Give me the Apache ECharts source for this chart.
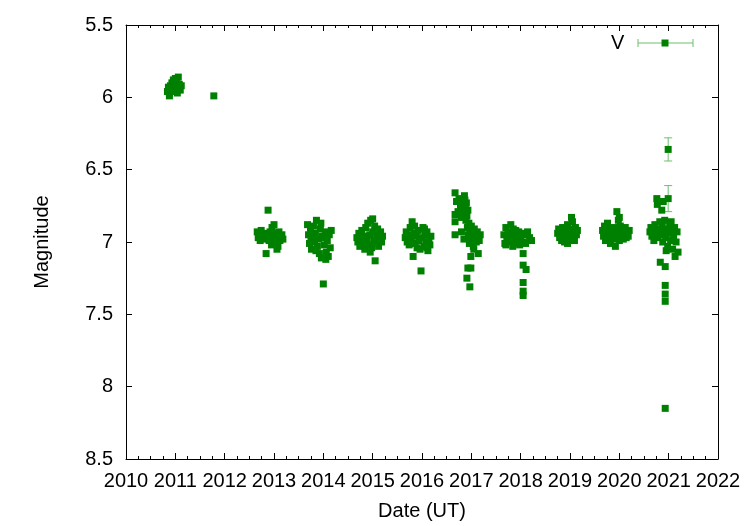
<!DOCTYPE html>
<html><head><meta charset="utf-8">
<script src="https://cdn.jsdelivr.net/npm/echarts@6/dist/echarts.min.js"></script>
<style>html,body{margin:0;padding:0;background:#fff}#c{width:751px;height:526px}</style>
</head><body><div id="c"></div>
<script>
// Data: [year, magnitude]
const season2011 = [[2010.84,5.96],[2010.86,5.93],[2010.88,5.97],[2010.90,5.92],[2010.92,5.95],[2010.93,5.90],[2010.95,5.93],[2010.96,5.88],[2010.97,5.96],[2010.99,5.91],[2011.00,5.87],[2011.02,5.94],[2011.03,5.89],[2011.05,5.93],[2011.06,5.86],[2011.08,5.91],[2011.10,5.95],[2011.12,5.92],[2010.88,5.99],[2011.04,5.97],[2011.78,5.99]];
const season2013 = [[2012.66,6.93],[2012.68,6.97],[2012.70,6.95],[2012.72,6.99],[2012.74,6.92],[2012.76,6.96],[2012.78,6.98],[2012.80,6.94],[2012.82,6.97],[2012.84,7.08],[2012.86,6.95],[2012.88,6.78],[2012.90,6.99],[2012.92,6.93],[2012.94,6.97],[2012.96,6.90],[2012.98,6.95],[2013.00,7.00],[2013.02,6.94],[2013.04,6.98],[2013.06,7.05],[2013.08,6.96],[2013.10,6.93],[2013.12,6.99],[2013.14,6.97],[2013.16,6.95],[2013.18,6.98],[2013.00,6.88],[2012.95,7.02],[2013.08,7.03]];
const season2014 = [[2013.68,6.88],[2013.70,6.95],[2013.72,7.01],[2013.74,6.92],[2013.76,7.05],[2013.78,6.97],[2013.80,6.89],[2013.82,7.00],[2013.84,6.94],[2013.86,6.85],[2013.88,7.03],[2013.90,6.98],[2013.92,7.08],[2013.94,6.91],[2013.96,7.11],[2013.98,6.96],[2014.00,7.29],[2014.02,7.02],[2014.04,6.93],[2014.06,7.07],[2014.08,6.99],[2014.10,7.10],[2014.12,6.95],[2014.14,7.04],[2014.16,6.92],[2013.85,7.06],[2013.95,6.87],[2014.05,7.12],[2013.75,6.99],[2014.00,6.97]];
const season2015 = [[2014.68,6.97],[2014.70,7.00],[2014.72,6.94],[2014.74,7.03],[2014.76,6.98],[2014.78,6.92],[2014.80,7.01],[2014.82,6.96],[2014.84,7.05],[2014.86,6.90],[2014.88,6.99],[2014.90,6.87],[2014.92,7.02],[2014.94,6.95],[2014.96,6.85],[2014.98,7.04],[2015.00,6.93],[2015.02,6.99],[2015.04,6.89],[2015.05,7.13],[2015.06,7.01],[2015.08,6.95],[2015.10,6.91],[2015.12,7.03],[2015.14,6.97],[2015.16,6.93],[2015.18,7.00],[2015.20,6.96],[2014.95,7.07],[2015.00,6.84]];
const season2016 = [[2015.66,6.97],[2015.68,6.93],[2015.70,7.00],[2015.72,6.95],[2015.74,7.02],[2015.76,6.90],[2015.78,6.98],[2015.80,6.86],[2015.82,7.10],[2015.84,6.94],[2015.86,7.01],[2015.88,6.96],[2015.90,7.04],[2015.92,6.92],[2015.94,6.99],[2015.96,7.05],[2015.98,7.20],[2016.00,6.97],[2016.02,6.90],[2016.04,7.03],[2016.06,6.95],[2016.08,7.00],[2016.10,6.93],[2016.12,7.06],[2016.14,6.98],[2016.16,7.02],[2016.18,6.96],[2015.85,6.89],[2016.05,6.91],[2016.10,7.04]];
const season2017 = [[2016.67,6.66],[2016.70,6.72],[2016.73,6.79],[2016.67,6.81],[2016.67,6.86],[2016.67,6.95],[2016.75,6.70],[2016.78,6.76],[2016.80,6.83],[2016.82,6.74],[2016.84,6.80],[2016.86,6.68],[2016.87,6.71],[2016.88,6.77],[2016.89,6.85],[2016.90,6.73],[2016.91,6.82],[2016.92,6.90],[2016.93,6.78],[2016.94,6.95],[2016.95,6.87],[2016.96,7.01],[2016.97,6.92],[2016.98,6.98],[2017.00,6.89],[2017.02,6.94],[2017.04,7.03],[2017.06,6.91],[2017.08,6.97],[2017.10,7.00],[2017.12,6.93],[2017.14,7.08],[2017.16,6.99],[2017.18,6.95],[2016.99,7.10],[2016.93,7.18],[2016.99,7.18],[2016.91,7.25],[2016.97,7.31],[2016.80,6.93],[2016.85,6.98],[2017.05,7.05]];
const season2018 = [[2017.66,6.95],[2017.68,7.01],[2017.70,6.90],[2017.70,7.02],[2017.72,6.97],[2017.74,6.93],[2017.76,7.00],[2017.78,6.95],[2017.80,6.88],[2017.82,6.98],[2017.84,7.03],[2017.86,6.94],[2017.88,6.99],[2017.90,6.92],[2017.92,7.01],[2017.94,6.96],[2017.96,6.93],[2017.98,7.02],[2018.00,6.97],[2018.02,6.94],[2018.04,7.00],[2018.05,7.08],[2018.05,7.16],[2018.11,7.19],[2018.05,7.28],[2018.05,7.34],[2018.05,7.37],[2018.08,6.95],[2018.10,7.01],[2018.14,6.93],[2018.18,6.97],[2018.22,6.99],[2017.85,6.91]];
const season2019 = [[2018.75,6.94],[2018.77,6.91],[2018.79,6.97],[2018.81,6.93],[2018.83,6.99],[2018.85,6.90],[2018.87,6.95],[2018.89,7.00],[2018.91,6.92],[2018.93,6.97],[2018.95,6.88],[2018.97,6.94],[2018.99,6.98],[2019.01,6.91],[2019.03,6.96],[2019.05,6.86],[2019.07,6.93],[2019.09,6.99],[2019.11,6.90],[2019.13,6.95],[2019.15,6.92],[2019.03,6.83],[2018.95,7.01],[2019.08,6.97]];
const season2020 = [[2019.66,6.92],[2019.68,6.96],[2019.70,6.89],[2019.72,6.99],[2019.74,6.94],[2019.76,6.87],[2019.78,6.97],[2019.80,6.91],[2019.82,7.01],[2019.84,6.95],[2019.86,6.92],[2019.88,6.98],[2019.90,6.90],[2019.92,7.03],[2019.94,6.96],[2019.95,6.79],[2019.96,6.93],[2019.98,6.85],[2020.00,6.99],[2020.02,6.89],[2020.04,6.95],[2020.06,6.92],[2020.08,6.98],[2020.10,6.94],[2020.12,6.90],[2020.14,6.97],[2020.16,6.93],[2020.18,6.96],[2020.20,6.92],[2020.00,6.83],[2019.85,6.97]];
const season2021 = [[2020.62,6.93],[2020.64,6.90],[2020.66,6.96],[2020.68,6.92],[2020.70,6.99],[2020.72,6.88],[2020.74,6.94],[2020.76,6.70],[2020.77,6.74],[2020.78,6.97],[2020.80,6.91],[2020.82,6.86],[2020.83,7.14],[2020.84,6.95],[2020.86,6.78],[2020.87,6.89],[2020.88,7.00],[2020.89,6.72],[2020.90,6.93],[2020.92,6.85],[2020.93,7.17],[2020.93,7.30],[2020.93,7.36],[2020.93,7.41],[2020.93,8.15],[2020.94,6.97],[2020.96,6.91],[2020.98,7.03],[2021.00,6.94],[2021.02,6.88],[2021.04,6.99],[2021.06,6.92],[2021.08,7.05],[2021.10,6.96],[2021.12,6.90],[2021.13,7.10],[2021.15,7.00],[2021.17,6.93],[2021.19,7.07],[2020.95,7.06],[2021.05,6.86]];
// points with visible error bars: [year, magnitude, error]
const errPoints = [[2020.99,6.36,0.08],[2020.99,6.70,0.09]];
const xTicks = [2010,2011,2012,2013,2014,2015,2016,2017,2018,2019,2020,2021,2022];
const yTicks = [5.5,6,6.5,7,7.5,8,8.5];

const GREEN = '#008000';
const ERR = '#6cbf6c';
const allPts = [].concat(season2011,season2013,season2014,season2015,season2016,season2017,season2018,season2019,season2020,season2021, errPoints.map(p=>[p[0],p[1]]));
const FONT = 'Liberation Sans';
const FS = 20;

const chart = echarts.init(document.getElementById('c'), null, {renderer:'canvas'});
const axLine = {show:true, onZero:false, lineStyle:{color:'#000', width:1}};
const xBase = {type:'value', min:xTicks[0], max:xTicks[xTicks.length-1], interval:1, splitLine:{show:false},
  axisLine:axLine, axisTick:{show:true, inside:true, length:6, lineStyle:{color:'#000'}},
  minorTick:{show:true, splitNumber:4, length:3, lineStyle:{color:'#000'}}};
const yBase = {type:'value', inverse:true, min:yTicks[0], max:yTicks[yTicks.length-1], interval:0.5, splitLine:{show:false},
  axisLine:axLine, axisTick:{show:true, inside:true, length:6, lineStyle:{color:'#000'}}};

chart.setOption({
  animation:false,
  backgroundColor:'#fff',
  grid:{left:126, right:33, top:25, bottom:67, containLabel:false},
  xAxis:[
    Object.assign({}, xBase, {position:'bottom', name:'Date (UT)', nameLocation:'middle', nameGap:42,
      nameTextStyle:{fontFamily:FONT, fontSize:FS, color:'#000'},
      axisLabel:{show:true, margin:12, fontFamily:FONT, fontSize:FS, color:'#000', formatter:v=>String(v)}}),
    Object.assign({}, xBase, {position:'top', axisLabel:{show:false}})
  ],
  yAxis:[
    Object.assign({}, yBase, {position:'left', name:'Magnitude', nameLocation:'middle', nameGap:74,
      nameTextStyle:{fontFamily:FONT, fontSize:FS, color:'#000'},
      axisLabel:{show:true, margin:13, fontFamily:FONT, fontSize:FS, color:'#000', formatter:v=>String(v)}}),
    Object.assign({}, yBase, {position:'right', axisLabel:{show:false}})
  ],
  series:[
    {type:'custom', name:'err', xAxisIndex:0, yAxisIndex:0, data:errPoints, z:2,
      renderItem:function(params, api){
        const x = api.value(0), y = api.value(1), e = api.value(2);
        const top = api.coord([x, y-e]), bot = api.coord([x, y+e]);
        const cx = top[0];
        const st = {stroke:ERR, lineWidth:1};
        return {type:'group', children:[
          {type:'line', shape:{x1:cx, y1:top[1], x2:cx, y2:bot[1]}, style:st},
          {type:'line', shape:{x1:cx-4, y1:top[1], x2:cx+4, y2:top[1]}, style:st},
          {type:'line', shape:{x1:cx-4, y1:bot[1], x2:cx+4, y2:bot[1]}, style:st}
        ]};
      }},
    {type:'scatter', name:'V', xAxisIndex:0, yAxisIndex:0, data:allPts, symbol:'rect', symbolSize:7,
      itemStyle:{color:GREEN, opacity:1}, z:3}
  ],
  graphic:[
    {type:'text', left:611, top:33, style:{text:'V', fontFamily:FONT, fontSize:FS, fill:'#000'}},
    {type:'line', shape:{x1:638, y1:43, x2:693, y2:43}, style:{stroke:ERR, lineWidth:1}},
    {type:'line', shape:{x1:638, y1:39, x2:638, y2:47}, style:{stroke:ERR, lineWidth:1}},
    {type:'line', shape:{x1:693, y1:39, x2:693, y2:47}, style:{stroke:ERR, lineWidth:1}},
    {type:'rect', shape:{x:661.5, y:39.5, width:7, height:7}, style:{fill:GREEN}}
  ]
});
</script></body></html>
